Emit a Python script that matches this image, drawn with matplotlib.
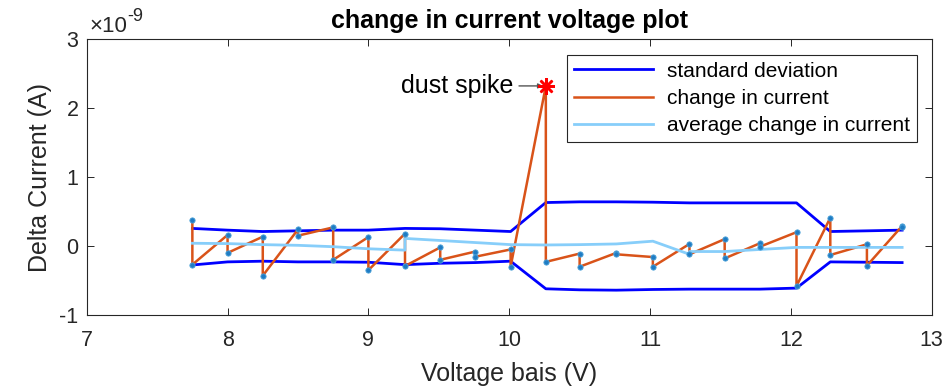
import matplotlib.pyplot as plt
import numpy as np

plt.rcParams['font.family'] = ['Liberation Sans', 'DejaVu Sans']
plt.rcParams['axes.unicode_minus'] = False

# bias voltage steps (V), two current readings per step (units of 1e-9 A)
voltage = [7.75, 8.00, 8.25, 8.50, 8.75, 9.00, 9.26, 9.51, 9.76, 10.01, 10.26,
           10.50, 10.76, 11.02, 11.28, 11.53, 11.78, 12.04, 12.28, 12.54, 12.79]
delta_first = [0.38, 0.16, 0.135, 0.24, 0.27, 0.13, 0.18, -0.02, -0.08, -0.05, 2.32,
               -0.11, -0.10, -0.16, 0.03, 0.10, 0.04, 0.20, 0.41, 0.025, 0.29]
delta_second = [-0.27, -0.10, -0.43, 0.15, -0.20, -0.35, -0.29, -0.20, -0.155, -0.30, -0.23,
                -0.30, -0.12, -0.30, -0.12, -0.18, -0.01, -0.58, -0.13, -0.285, 0.28]
avg_first = [0.04, 0.035, 0.02, 0.01, -0.01, -0.04, -0.06, 0.08, 0.05, 0.02, 0.015,
             0.02, 0.03, 0.07, -0.12, -0.08, -0.05, -0.02, -0.02, -0.02, -0.02]
avg_second = [0.04, 0.035, 0.02, 0.01, -0.01, -0.04, 0.11, 0.08, 0.05, 0.02, 0.015,
              0.02, 0.03, 0.07, -0.08, -0.08, -0.05, -0.02, -0.02, -0.02, -0.02]
std_upper = [0.255, 0.23, 0.21, 0.22, 0.23, 0.23, 0.255, 0.25, 0.23, 0.21, 0.63,
             0.64, 0.64, 0.635, 0.625, 0.625, 0.625, 0.625, 0.21, 0.22, 0.23]
std_lower = [-0.275, -0.23, -0.22, -0.23, -0.23, -0.235, -0.27, -0.25, -0.24, -0.22, -0.62,
             -0.635, -0.64, -0.63, -0.625, -0.625, -0.625, -0.61, -0.23, -0.235, -0.24]
spike_voltage = 10.26
spike_delta = 2.32

x_ticks = [7, 8, 9, 10, 11, 12, 13]
y_ticks = [-1, 0, 1, 2, 3]
y_tick_labels = ['-1', '0', '1', '2', '3']

SCALE = 1e-9
x_pairs = np.repeat(voltage, 2)
delta = np.column_stack([delta_first, delta_second]).ravel() * SCALE
avg = np.column_stack([avg_first, avg_second]).ravel() * SCALE
upper = np.array(std_upper) * SCALE
lower = np.array(std_lower) * SCALE

dark = '#262626'
fig = plt.figure(figsize=(9.48, 3.88), dpi=100)
ax = fig.add_axes([0.0915, 0.1881, 0.8913, 0.7114])

ax.plot(voltage, upper, color='#0000FF', lw=2.0, label='standard deviation')
ax.plot(voltage, lower, color='#0000FF', lw=2.0)
ax.plot(x_pairs, delta, color='#D95319', lw=1.8, label='change in current')
ax.plot(x_pairs, avg, color='#87CEFA', lw=2.0, label='average change in current')
ax.plot(x_pairs, delta, ls='none', marker='o', ms=3.8, color='#1F7CC4',
        mec='#4DA3D9', mew=0.6, zorder=5)
ax.plot([spike_voltage], [spike_delta * SCALE], ls='none', marker=(8, 2, 0),
        ms=12, mew=1.8, color='#FF0000', zorder=6)

ax.annotate('dust spike', xy=(spike_voltage - 0.02, spike_delta * SCALE),
            xytext=(10.03, spike_delta * SCALE), ha='right', va='center',
            fontsize=18, color='black',
            arrowprops=dict(arrowstyle='-|>', color='#555555', lw=1.0,
                            mutation_scale=7, shrinkA=2, shrinkB=0))

ax.set_xlim(7, 13)
ax.set_ylim(-1e-9, 3e-9)
ax.set_xticks(x_ticks)
ax.set_yticks(np.array(y_ticks) * SCALE)
ax.set_yticklabels(y_tick_labels)

# exponent shown above the y axis
base = ax.text(0.003, 1.006, '\u00d710', transform=ax.transAxes, fontsize=16,
               color=dark, ha='left', va='bottom')
ax.annotate('-9', xy=(1, 0.6), xycoords=base, xytext=(0, 0),
            textcoords='offset points', fontsize=13, color=dark,
            ha='left', va='bottom')

ax.tick_params(direction='in', top=True, right=True, length=5, width=0.7,
               color=dark, labelcolor=dark, labelsize=15.5)
ax.tick_params(axis='x', pad=10.5)
ax.tick_params(axis='y', pad=6)
for spine in ax.spines.values():
    spine.set_linewidth(0.8)
    spine.set_color(dark)

ax.set_xlabel('Voltage bais (V)', fontsize=18, color=dark, labelpad=8)
ax.set_ylabel('Delta Current (A)', fontsize=18, color=dark, labelpad=5.5)
ax.set_title('change in current voltage plot', fontsize=18, fontweight='bold', pad=8)

leg = ax.legend(loc='upper right', bbox_to_anchor=(0.9826, 0.942), borderaxespad=0,
                fontsize=15, handlelength=3.8, handletextpad=0.7, labelspacing=0.40,
                borderpad=0.32, fancybox=False, framealpha=1, edgecolor=dark)
leg.get_frame().set_linewidth(0.8)

fig.savefig('out.png', dpi=100)
